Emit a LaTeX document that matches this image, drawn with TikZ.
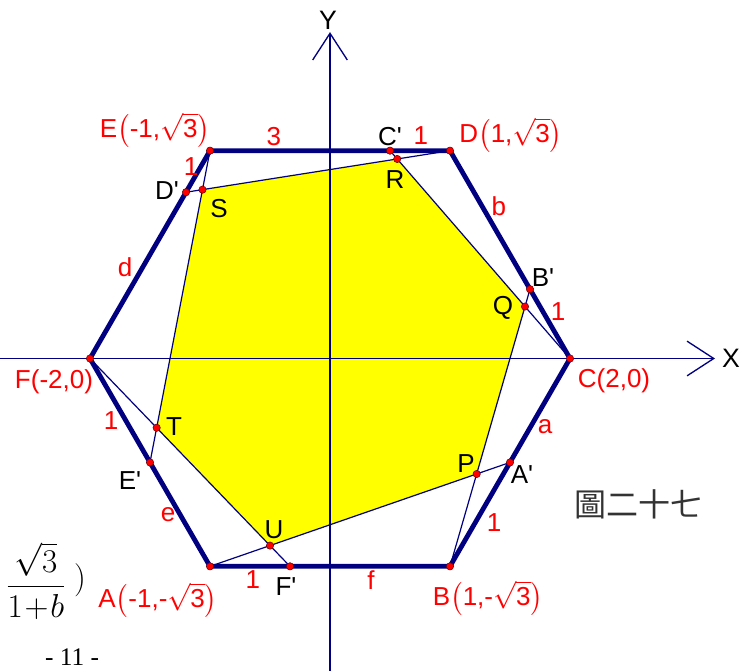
\documentclass[tikz,border=0pt]{standalone}
\usepackage{amsmath}
\usepackage{fontspec}
\setmainfont{Liberation Sans}
\newfontfamily\cjk{Noto Sans CJK TC}
\newfontfamily\pagefont{Liberation Serif}
\usepackage{tikz}
\usetikzlibrary{arrows.meta,calc}
\definecolor{Navy}{HTML}{000080}
\definecolor{Lemon}{HTML}{FFFF00}
\newcommand{\pr}{\textquotesingle}

\begin{document}
\begin{tikzpicture}[x=90pt,y=90pt,
  side/.style={line width=3.6pt,draw=Navy,line join=round},
  chord/.style={line width=0.9pt,draw=Navy},
  axis/.style={line width=1pt,draw=Navy,-{Straight Barb[length=20pt,width=26pt]}},
  dot/.style={circle,fill=red,draw=black!60!red,line width=0.4pt,inner sep=0pt,minimum size=5.5pt},
  vlbl/.style={text=red,font=\fontsize{19.5}{22}\selectfont,inner sep=0pt},
  plbl/.style={text=black,font=\fontsize{19.5}{22}\selectfont,inner sep=0pt}
]
\useasboundingbox (-2.75,-2.604) rectangle (3.5,2.9875);

% hexagon
\coordinate (A) at (-1,-1.732);
\coordinate (B) at (1,-1.732);
\coordinate (C) at (2,0);
\coordinate (D) at (1,1.732);
\coordinate (E) at (-1,1.732);
\coordinate (F) at (-2,0);
% points on the sides
\coordinate (Ap) at ($(B)!0.5!(C)$);
\coordinate (Bp) at ($(C)!1/3!(D)$);
\coordinate (Cp) at ($(D)!0.25!(E)$);
\coordinate (Dp) at ($(E)!0.2!(F)$);
\coordinate (Ep) at ($(F)!0.5!(A)$);
\coordinate (Fp) at ($(A)!1/3!(B)$);
% inner hexagon
\coordinate (P) at (intersection of Ap--A and Bp--B);
\coordinate (Q) at (intersection of Bp--B and Cp--C);
\coordinate (R) at (intersection of Cp--C and Dp--D);
\coordinate (S) at (intersection of Dp--D and Ep--E);
\coordinate (T) at (intersection of Ep--E and Fp--F);
\coordinate (U) at (intersection of Fp--F and Ap--A);
% axes ends
\coordinate (xl) at (-2.75,0);
\coordinate (xr) at (3.208,0);
\coordinate (yb) at (0,-2.604);
\coordinate (yt) at (0,2.72);

\fill[Lemon] (P) -- (Q) -- (R) -- (S) -- (T) -- (U) -- cycle;
\draw[axis] (xl) -- (xr);
\draw[axis] (yb) -- (yt);
\foreach \p/\q in {Ap/A,Bp/B,Cp/C,Dp/D,Ep/E,Fp/F} {
  \draw[chord] (\p) -- (\q);
}
\draw[side] (A) -- (B) -- (C) -- (D) -- (E) -- (F) -- cycle;
\foreach \n in {A,B,C,D,E,F,Ap,Bp,Cp,Dp,Ep,Fp,P,Q,R,S,T,U} {
  \node[dot] (d\n) at (\n) {};
}

% vertex labels
\node[vlbl] (lE) at (-1.458,1.904) {E$\left(\text{-1,}\sqrt{\text{3}}\right)$};
\node[vlbl] (lD) at (1.508,1.862) {D$\left(\text{1,}\sqrt{\text{3}}\right)$};
\node[vlbl] (lC) at (2.367,-0.188) {C(2,0)};
\node[vlbl] (lF) at (-2.3,-0.196) {F(-2,0)};
\node[vlbl] (lA) at (-1.433,-2.013) {A$\left(\text{-1,-}\sqrt{\text{3}}\right)$};
\node[vlbl] (lB) at (1.317,-1.996) {B$\left(\text{1,-}\sqrt{\text{3}}\right)$};
% lengths on the sides
\node[vlbl] (s1) at (-0.467,1.846) {3};
\node[vlbl] (s2) at (-1.158,1.596) {1};
\node[vlbl] (s3) at (0.758,1.862) {1};
\node[vlbl] (s4) at (1.408,1.271) {b};
\node[vlbl] (s5) at (1.9,0.388) {1};
\node[vlbl] (s6) at (1.792,-0.571) {a};
\node[vlbl] (s7) at (1.367,-1.371) {1};
\node[vlbl] (s8) at (0.342,-1.846) {f};
\node[vlbl] (s9) at (-0.642,-1.846) {1};
\node[vlbl] (s10) at (-1.35,-1.304) {e};
\node[vlbl] (s11) at (-1.825,-0.513) {1};
\node[vlbl] (s12) at (-1.708,0.762) {d};
% point labels
\node[plbl] (lAp) at (1.6,-0.971) {A\pr};
\node[plbl] (lBp) at (1.775,0.671) {B\pr};
\node[plbl] (lCp) at (0.5,1.846) {C\pr};
\node[plbl] (lDp) at (-1.358,1.396) {D\pr};
\node[plbl] (lEp) at (-1.667,-1.013) {E\pr};
\node[plbl] (lFp) at (-0.367,-1.904) {F\pr};
\node[plbl] (lP) at (1.133,-0.879) {P};
\node[plbl] (lQ) at (1.442,0.421) {Q};
\node[plbl] (lR) at (0.542,1.488) {R};
\node[plbl] (lS) at (-0.925,1.246) {S};
\node[plbl] (lT) at (-1.3,-0.571) {T};
\node[plbl] (lU) at (-0.467,-1.429) {U};
% axis names
\node[plbl,font=\fontsize{20}{22}\selectfont] (lX) at (3.342,0) {X};
\node[plbl,font=\fontsize{20}{22}\selectfont] (lY) at (-0.017,2.821) {Y};

% caption and page fragments
\node[inner sep=0pt,text=black!80,font=\cjk\fontsize{24}{26}\selectfont] (cap) at (2.567,-1.213) {圖二十七};
\node[inner sep=0pt,font=\fontsize{23}{26}\selectfont] (frac) at (-2.45,-1.854) {$\dfrac{\sqrt{3}}{1\!+\!b}$};
\node[inner sep=0pt,font=\fontsize{28}{30}\selectfont] (paren) at (-2.083,-1.846) {$)$};
\node[inner sep=0pt,font=\pagefont\fontsize{19}{21}\selectfont] (page) at (-2.15,-2.49) {- 11 -};
\end{tikzpicture}
\end{document}
